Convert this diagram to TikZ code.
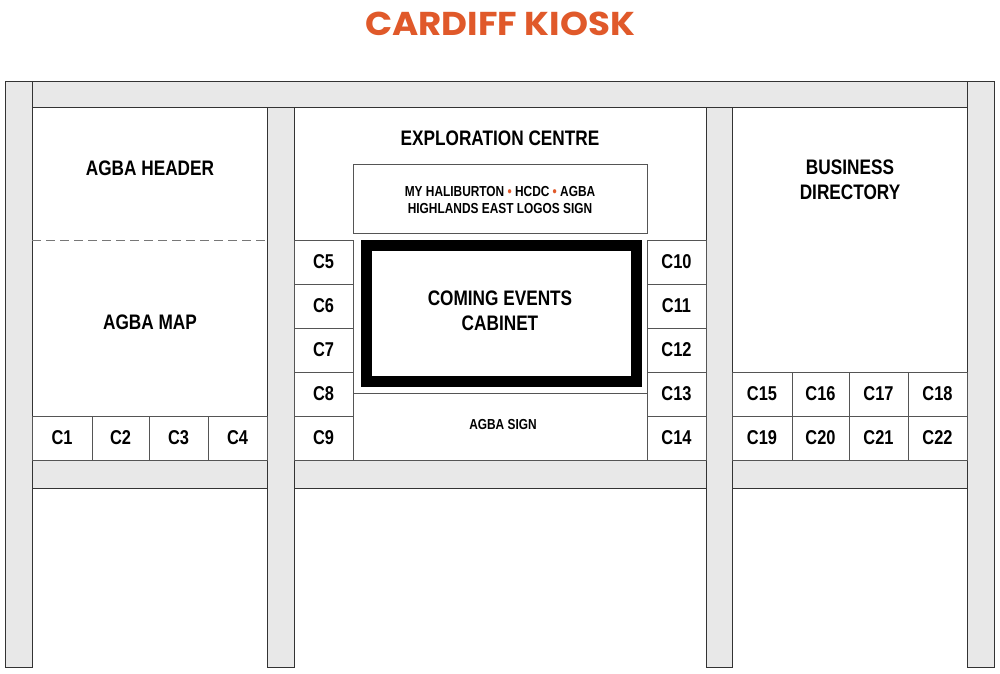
\documentclass[tikz,border=0pt]{standalone}
\usepackage{fontspec}
\setmainfont{Liberation Sans}
\newfontfamily\labfont[FakeStretch=0.82]{Liberation Sans}
\newfontfamily\titlefont[FakeStretch=1.08]{Poppins}
\definecolor{kfill}{HTML}{E8E8E8}
\definecolor{kline}{HTML}{333333}
\definecolor{kcell}{HTML}{555555}
\definecolor{korange}{HTML}{E0592A}
\begin{document}
\begin{tikzpicture}[x=1pt,y=-1pt,
  beam/.style={draw=kline,fill=kfill,line width=1pt},
  panel/.style={draw=kline,fill=white,line width=1pt},
  cellbox/.style={draw=kcell,line width=1pt},
  biglbl/.style={font=\labfont\bfseries\fontsize{21}{25}\selectfont,align=center,inner sep=0pt},
  clbl/.style={font=\labfont\bfseries\fontsize{20}{24}\selectfont,inner sep=0pt},
  smalllbl/.style={font=\labfont\bfseries\fontsize{14.5}{16.5}\selectfont,align=center,inner sep=0pt},
  dot/.style={text=korange}
]
\useasboundingbox (0,0) rectangle (1000,673);
\fill[white] (0,0) rectangle (1000,673);
% title
\node[font=\titlefont\bfseries\fontsize{33}{38}\selectfont,text=korange,inner sep=0pt] (title) at (500,24) {CARDIFF KIOSK};
% panels
\draw[panel] (32,107) rectangle (267,460);
\draw[panel] (294,107) rectangle (706,460);
\draw[panel] (732,107) rectangle (967,460);
% posts and beams
\draw[beam] (5,81) rectangle (32,667);
\draw[beam] (967,81) rectangle (994,667);
\draw[beam] (32,81) rectangle (967,107);
\draw[beam] (267,107) rectangle (294,667);
\draw[beam] (706,107) rectangle (732,667);
\draw[beam] (32,460) rectangle (267,488);
\draw[beam] (294,460) rectangle (706,488);
\draw[beam] (732,460) rectangle (967,488);
% left panel
\draw[kcell!80,line width=1pt,dash pattern=on 9pt off 5pt] (32,240) -- (267,240);
\node[biglbl] (agbaheader) at (150,168) {AGBA HEADER};
\node[biglbl] (agbamap) at (150,322) {AGBA MAP};
\foreach \xa/\xb/\n in {32/92/1,92/149/2,149/208/3,208/267/4}{
  \draw[cellbox] (\xa,416) rectangle (\xb,460);
  \node[clbl] (c\n) at ({(\xa+\xb)/2},438) {C\n};
}
% centre panel
\node[biglbl] (explore) at (500,138) {EXPLORATION CENTRE};
\draw[cellbox] (353,164) rectangle (647,233);
\node[smalllbl] (logos) at (500,200) {MY HALIBURTON {\color{korange}\textbullet} HCDC {\color{korange}\textbullet} AGBA\\HIGHLANDS EAST LOGOS SIGN};
\foreach \ya/\yb/\n/\m in {240/284/5/10,284/328/6/11,328/372/7/12,372/416/8/13,416/460/9/14}{
  \draw[cellbox] (294,\ya) rectangle (353,\yb);
  \draw[cellbox] (647,\ya) rectangle (706,\yb);
  \node[clbl] (c\n) at (323.5,{(\ya+\yb)/2}) {C\n};
  \node[clbl] (c\m) at (676.5,{(\ya+\yb)/2}) {C\m};
}
\draw[black,line width=11pt,fill=white] (366,245) rectangle (636,381);
\node[biglbl] (cabinet) at (500,310.5) {COMING EVENTS\\CABINET};
\draw[cellbox] (353,393) rectangle (647,460);
\node[smalllbl] (agbasign) at (503,424) {AGBA SIGN};
% right panel
\node[biglbl] (business) at (850,180) {BUSINESS\\DIRECTORY};
\foreach \xa/\xb/\n/\m in {732/792/15/19,792/849/16/20,849/908/17/21,908/967/18/22}{
  \draw[cellbox] (\xa,372) rectangle (\xb,416);
  \draw[cellbox] (\xa,416) rectangle (\xb,460);
  \node[clbl] (c\n) at ({(\xa+\xb)/2},394) {C\n};
  \node[clbl] (c\m) at ({(\xa+\xb)/2},438) {C\m};
}
\end{tikzpicture}
\end{document}
